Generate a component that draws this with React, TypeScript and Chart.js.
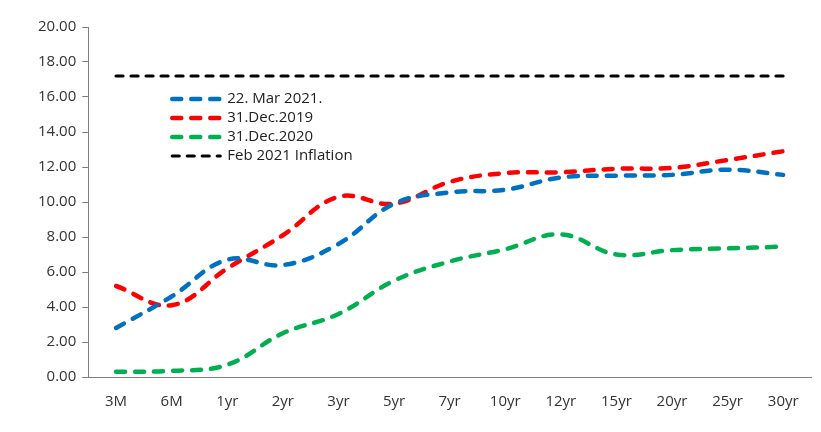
import { useEffect, useRef } from "react";
import { Chart, registerables, type ChartConfiguration, type Plugin } from "chart.js";

Chart.register(...registerables);

const tenors = ["3M", "6M", "1yr", "2yr", "3yr", "5yr", "7yr", "10yr", "12yr", "15yr", "20yr", "25yr", "30yr"];
const mar2021 = [2.8, 4.6, 6.7, 6.4, 7.6, 9.9, 10.55, 10.7, 11.4, 11.5, 11.55, 11.85, 11.55];
const dec2019 = [5.2, 4.1, 6.2, 8.1, 10.3, 9.9, 11.15, 11.65, 11.7, 11.9, 11.95, 12.4, 12.9];
const dec2020 = [0.3, 0.35, 0.7, 2.5, 3.6, 5.5, 6.6, 7.3, 8.15, 7.0, 7.25, 7.35, 7.45];
const inflation = tenors.map(() => 17.2);

const FONT = "'Open Sans', sans-serif";

// Legend drawn inside the plot area, like the Excel original
const innerLegend: Plugin<"line"> = {
  id: "innerLegend",
  afterDraw(chart) {
    const { ctx, chartArea } = chart;
    const x0 = chartArea.left + 82;
    const y0 = chartArea.top + 72;
    ctx.save();
    ctx.font = `15px ${FONT}`;
    ctx.textBaseline = "middle";
    chart.data.datasets.forEach((ds: any, i) => {
      const y = y0 + i * 19;
      ctx.strokeStyle = ds.borderColor;
      ctx.lineWidth = ds.borderWidth;
      ctx.lineCap = "round";
      ctx.setLineDash(ds.borderDash);
      ctx.beginPath();
      ctx.moveTo(x0 + 2, y);
      ctx.lineTo(x0 + 50, y);
      ctx.stroke();
      ctx.setLineDash([]);
      ctx.fillStyle = "#222";
      ctx.fillText(ds.label, x0 + 57, y);
    });
    ctx.restore();
  },
};

export default function App() {
  const canvasRef = useRef<HTMLCanvasElement>(null);
  const chartRef = useRef<Chart | null>(null);

  useEffect(() => {
    document.body.style.margin = "0";
    const ctx = canvasRef.current?.getContext("2d");
    if (!ctx) return;
    chartRef.current?.destroy();

    const line = (label: string, data: number[], color: string, dash: number[], width: number, tension: number) => ({
      label,
      data,
      borderColor: color,
      backgroundColor: color,
      borderWidth: width,
      borderDash: dash,
      borderCapStyle: "round" as const,
      pointRadius: 0,
      tension,
      fill: false,
    });

    const config: ChartConfiguration<"line"> = {
      type: "line",
      data: {
        labels: tenors,
        datasets: [
          line("22. Mar 2021.", mar2021, "#0070C0", [9, 10], 4.5, 0.4),
          line("31.Dec.2019", dec2019, "#FF0000", [9, 10], 4.5, 0.4),
          line("31.Dec.2020", dec2020, "#00B050", [9, 10], 4.5, 0.4),
          line("Feb 2021 Inflation", inflation, "#000000", [7, 8], 3.2, 0),
        ],
      },
      options: {
        responsive: true,
        maintainAspectRatio: false,
        animation: false,
        layout: { padding: { left: 32, right: 10, top: 27, bottom: 13 } },
        plugins: { legend: { display: false }, tooltip: { enabled: false } },
        scales: {
          x: {
            offset: true,
            grid: { display: false },
            border: { color: "#7f7f7f", width: 1 },
            ticks: { color: "#333", font: { size: 15, family: FONT }, padding: 8 },
          },
          y: {
            min: 0,
            max: 20,
            grid: { drawOnChartArea: false, drawTicks: true, tickLength: 6, color: "#7f7f7f" },
            border: { color: "#7f7f7f", width: 1 },
            ticks: {
              stepSize: 2,
              color: "#333",
              font: { size: 15, family: FONT },
              padding: 6,
              callback: (v) => Number(v).toFixed(2),
            },
          },
        },
      },
      plugins: [innerLegend],
    };

    chartRef.current = new Chart(ctx, config);
    return () => chartRef.current?.destroy();
  }, []);

  return (
    <div style={{ width: 821, height: 432, position: "relative", background: "#fff" }}>
      <canvas ref={canvasRef} />
    </div>
  );
}
